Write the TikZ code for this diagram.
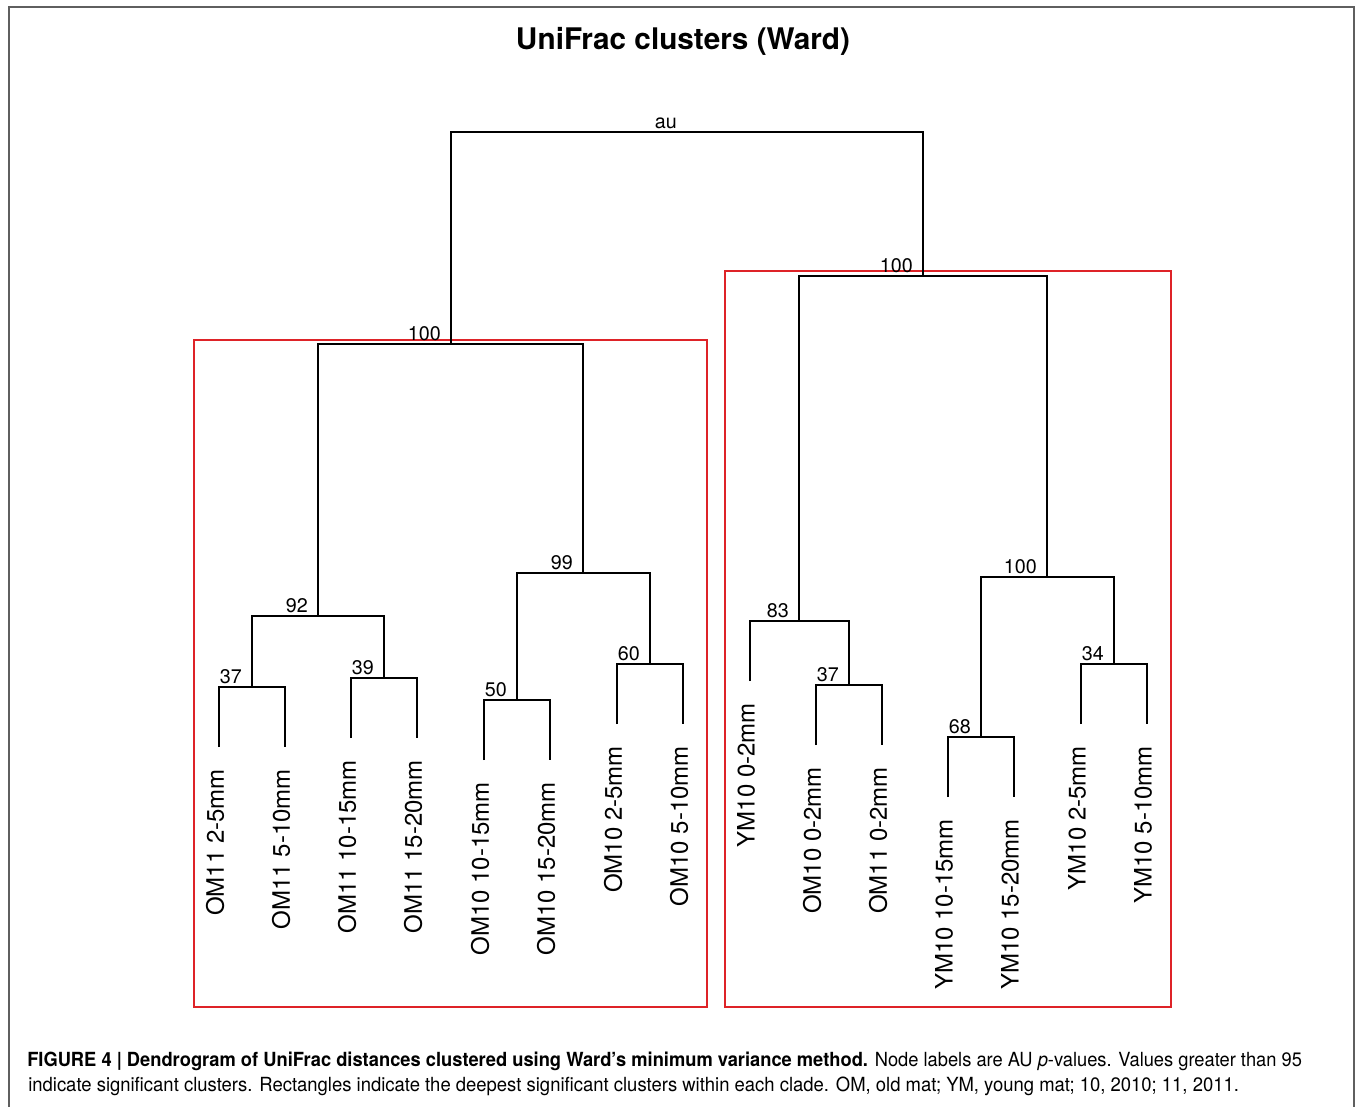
\documentclass[tikz,border=0pt]{standalone}
\usepackage{fontspec}
\setmainfont{TeX Gyre Heros}
\usepackage{graphicx}
\definecolor{boxred}{RGB}{222,35,40}
\definecolor{framegray}{RGB}{95,95,95}
\begin{document}
\begin{tikzpicture}[x=0.75pt,y=-0.75pt,
  br/.style={line width=1.1pt, black},
  redbox/.style={draw=boxred, line width=1.5pt},
  num/.style={anchor=south east, inner sep=0pt, font=\fontsize{14.8}{16}\selectfont},
  leaflab/.style={rotate=90, anchor=east, inner sep=0pt, font=\fontsize{18}{20}\selectfont},
  ttl/.style={anchor=base, inner sep=0pt, font=\fontsize{22.3}{25}\selectfont\bfseries},
  capline/.style={anchor=base west, inner sep=0pt, font=\fontsize{14.6}{16}\selectfont}]
\useasboundingbox (0,0) rectangle (1357,1107);
\fill[white] (0,0) rectangle (1357,1107);
% frame
\draw[framegray, line width=1.5pt] (9,1108) -- (9,7) -- (1354,7) -- (1354,1108);
% title
\node[ttl] (title) at (683,49) {UniFrac clusters (Ward)};
% junctions
\coordinate (root) at (687,132);
\coordinate (L100) at (451,344);
\coordinate (j92) at (318,616);
\coordinate (j37) at (252,687);
\coordinate (j39) at (384,678);
\coordinate (j99) at (583,573);
\coordinate (j50) at (517,700);
\coordinate (j60) at (650,664);
\coordinate (R100) at (923,276);
\coordinate (j83) at (799,621);
\coordinate (j37b) at (849,685);
\coordinate (j100b) at (1047,577);
\coordinate (j68) at (981,737);
\coordinate (j34) at (1114,664);
% leaves
\coordinate (a1) at (219,747);
\coordinate (a2) at (285,747);
\coordinate (a3) at (351,738);
\coordinate (a4) at (417,738);
\coordinate (a5) at (484,760);
\coordinate (a6) at (550,760);
\coordinate (a7) at (617,724);
\coordinate (a8) at (683,724);
\coordinate (a9) at (750,681);
\coordinate (a10) at (816,745);
\coordinate (a11) at (882,745);
\coordinate (a12) at (948,797);
\coordinate (a13) at (1014,797);
\coordinate (a14) at (1081,724);
\coordinate (a15) at (1147,724);
% red boxes
\draw[redbox] (194,340) rectangle (707,1007);
\draw[redbox] (725,271) rectangle (1171,1007);
% branches
\draw[br] (L100) |- (root) -| (R100);
\draw[br] (j92) |- (L100) -| (j99);
\draw[br] (j37) |- (j92) -| (j39);
\draw[br] (a1) |- (j37) -| (a2);
\draw[br] (a3) |- (j39) -| (a4);
\draw[br] (j50) |- (j99) -| (j60);
\draw[br] (a5) |- (j50) -| (a6);
\draw[br] (a7) |- (j60) -| (a8);
\draw[br] (j83) |- (R100) -| (j100b);
\draw[br] (a9) |- (j83) -| (j37b);
\draw[br] (a10) |- (j37b) -| (a11);
\draw[br] (j68) |- (j100b) -| (j34);
\draw[br] (a12) |- (j68) -| (a13);
\draw[br] (a14) |- (j34) -| (a15);
% junction labels
\node[num] (nroot) at ([xshift=-7.5pt,yshift=2.25pt]root) {au};
\node[num] (nL100) at ([xshift=-7.5pt,yshift=2.25pt]L100) {100};
\node[num] (n92) at ([xshift=-7.5pt,yshift=2.25pt]j92) {92};
\node[num] (n37) at ([xshift=-7.5pt,yshift=2.25pt]j37) {37};
\node[num] (n39) at ([xshift=-7.5pt,yshift=2.25pt]j39) {39};
\node[num] (n99) at ([xshift=-7.5pt,yshift=2.25pt]j99) {99};
\node[num] (n50) at ([xshift=-7.5pt,yshift=2.25pt]j50) {50};
\node[num] (n60) at ([xshift=-7.5pt,yshift=2.25pt]j60) {60};
\node[num] (nR100) at ([xshift=-7.5pt,yshift=2.25pt]R100) {100};
\node[num] (n83) at ([xshift=-7.5pt,yshift=2.25pt]j83) {83};
\node[num] (n37b) at ([xshift=-7.5pt,yshift=2.25pt]j37b) {37};
\node[num] (n100b) at ([xshift=-7.5pt,yshift=2.25pt]j100b) {100};
\node[num] (n68) at ([xshift=-7.5pt,yshift=2.25pt]j68) {68};
\node[num] (n34) at ([xshift=-7.5pt,yshift=2.25pt]j34) {34};
% leaf labels
\node[leaflab] (t1) at ([xshift=-3pt,yshift=-16.5pt]a1) {OM11 2-5mm};
\node[leaflab] (t2) at ([xshift=-3pt,yshift=-16.5pt]a2) {OM11 5-10mm};
\node[leaflab] (t3) at ([xshift=-3pt,yshift=-16.5pt]a3) {OM11 10-15mm};
\node[leaflab] (t4) at ([xshift=-3pt,yshift=-16.5pt]a4) {OM11 15-20mm};
\node[leaflab] (t5) at ([xshift=-3pt,yshift=-16.5pt]a5) {OM10 10-15mm};
\node[leaflab] (t6) at ([xshift=-3pt,yshift=-16.5pt]a6) {OM10 15-20mm};
\node[leaflab] (t7) at ([xshift=-3pt,yshift=-16.5pt]a7) {OM10 2-5mm};
\node[leaflab] (t8) at ([xshift=-3pt,yshift=-16.5pt]a8) {OM10 5-10mm};
\node[leaflab] (t9) at ([xshift=-3pt,yshift=-16.5pt]a9) {YM10 0-2mm};
\node[leaflab] (t10) at ([xshift=-3pt,yshift=-16.5pt]a10) {OM10 0-2mm};
\node[leaflab] (t11) at ([xshift=-3pt,yshift=-16.5pt]a11) {OM11 0-2mm};
\node[leaflab] (t12) at ([xshift=-3pt,yshift=-16.5pt]a12) {YM10 10-15mm};
\node[leaflab] (t13) at ([xshift=-3pt,yshift=-16.5pt]a13) {YM10 15-20mm};
\node[leaflab] (t14) at ([xshift=-3pt,yshift=-16.5pt]a14) {YM10 2-5mm};
\node[leaflab] (t15) at ([xshift=-3pt,yshift=-16.5pt]a15) {YM10 5-10mm};
% caption
\node[capline] (cap1) at (27,1066) {\resizebox{956pt}{\height}{\textbf{FIGURE 4 | Dendrogram of UniFrac distances clustered using Ward’s minimum variance method.} Node labels are AU \textit{p}-values. Values greater than 95}};
\node[capline] (cap2) at (28,1091) {\resizebox{908pt}{\height}{indicate significant clusters. Rectangles indicate the deepest significant clusters within each clade. OM, old mat; YM, young mat; 10, 2010; 11, 2011.}};
\end{tikzpicture}
\end{document}
